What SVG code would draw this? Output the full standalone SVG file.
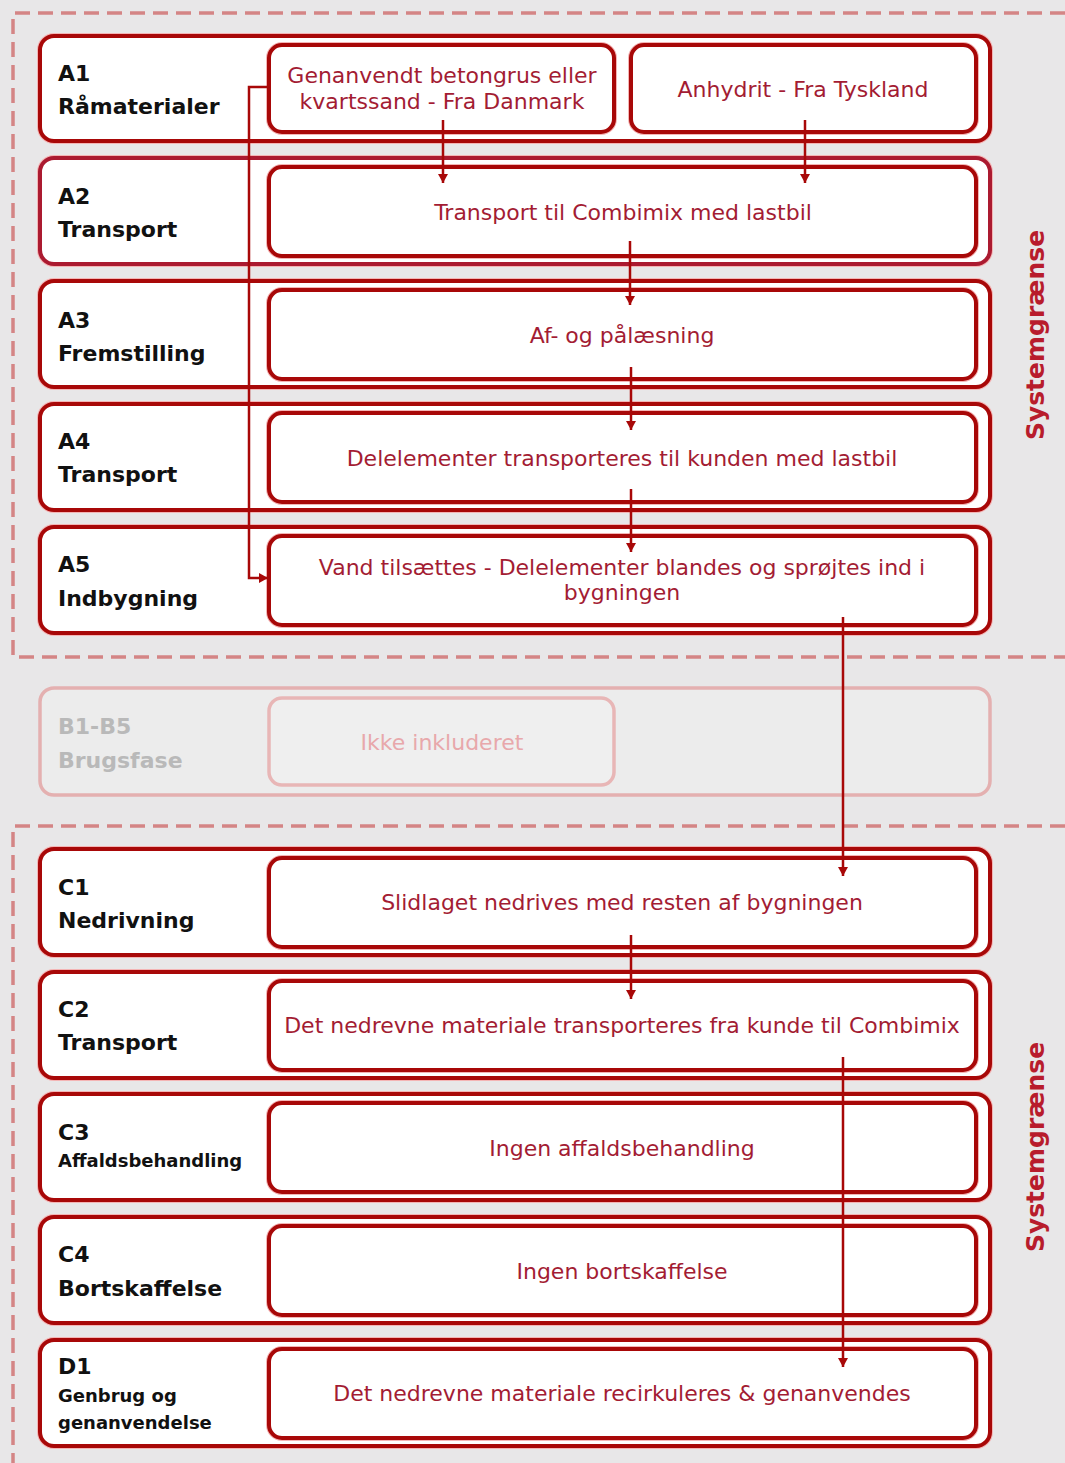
<svg xmlns="http://www.w3.org/2000/svg" width="1065" height="1463" viewBox="0 0 1065 1463">
<defs>
<marker id="ah" viewBox="0 0 9 10" refX="9" refY="5" markerWidth="9" markerHeight="10" markerUnits="userSpaceOnUse" orient="auto">
<path d="M0,0 L9,5 L0,10 z" fill="#a80808"/>
</marker>
<style>
.bound{fill:none;stroke:#d48585;stroke-width:3.5;stroke-dasharray:15 8}
.row{fill:#ffffff;stroke:#a80808;stroke-width:4}
.halo{fill:none;stroke:#f4b4b4;stroke-width:6}
.box{fill:#ffffff;stroke:#a80808;stroke-width:4}
.rowB{fill:#ececec;stroke:#e4b0b0;stroke-width:3.5}
.boxB{fill:#efefef;stroke:#e8b6b6;stroke-width:3.5}
.lbl{font-family:"DejaVu Sans",sans-serif;font-weight:bold;font-size:22px;fill:#111111}
.lbls{font-family:"DejaVu Sans",sans-serif;font-weight:bold;font-size:18px;fill:#111111}
.lblB{font-family:"DejaVu Sans",sans-serif;font-weight:bold;font-size:22px;fill:#b9b9b9}
.txt{font-family:"DejaVu Sans",sans-serif;font-size:22px;fill:#a31c33;text-anchor:middle}
.txtB{font-family:"DejaVu Sans",sans-serif;font-size:22px;fill:#e8a8ab;text-anchor:middle}
.sys{font-family:"DejaVu Sans",sans-serif;font-weight:bold;font-size:25px;fill:#b81c2c;text-anchor:middle}
.con{fill:none;stroke:#a80808;stroke-width:2.5}
</style>
</defs>
<rect x="0" y="0" width="1065" height="1463" fill="#e8e7e8"/>
<g id="boundaries">
<path class="bound" d="M1065,13 H13 V657 H1065"/>
<path class="bound" d="M1065,826 H13 V1463"/>
</g>
<g id="A1">
<rect class="halo" x="40" y="36" width="950" height="105" rx="14"/>
<rect class="row" x="40" y="36" width="950" height="105" rx="14"/>
<text class="lbl" x="58" y="81">A1</text>
<text class="lbl" x="58" y="114">Råmaterialer</text>
</g>
<g id="A1a">
<rect class="halo" x="269" y="45" width="345" height="87" rx="13"/>
<rect class="box" x="269" y="45" width="345" height="87" rx="13"/>
<text class="txt" x="442" y="83">Genanvendt betongrus eller</text>
<text class="txt" x="442" y="109">kvartssand - Fra Danmark</text>
</g>
<g id="A1b">
<rect class="halo" x="631" y="45" width="345" height="87" rx="13"/>
<rect class="box" x="631" y="45" width="345" height="87" rx="13"/>
<text class="txt" x="803" y="97">Anhydrit - Fra Tyskland</text>
</g>
<g id="A2">
<rect class="halo" x="40" y="158" width="950" height="106" rx="14"/>
<rect class="row" x="40" y="158" width="950" height="106" rx="14" style="stroke:#ab1a30"/>
<text class="lbl" x="58" y="204">A2</text>
<text class="lbl" x="58" y="237">Transport</text>
<rect class="halo" x="269" y="167" width="707" height="89" rx="13"/>
<rect class="box" x="269" y="167" width="707" height="89" rx="13"/>
<text class="txt" x="623" y="220">Transport til Combimix med lastbil</text>
</g>
<g id="A3">
<rect class="halo" x="40" y="281" width="950" height="106" rx="14"/>
<rect class="row" x="40" y="281" width="950" height="106" rx="14"/>
<text class="lbl" x="58" y="328">A3</text>
<text class="lbl" x="58" y="361">Fremstilling</text>
<rect class="halo" x="269" y="290" width="707" height="89" rx="13"/>
<rect class="box" x="269" y="290" width="707" height="89" rx="13"/>
<text class="txt" x="622" y="343">Af- og pålæsning</text>
</g>
<g id="A4">
<rect class="halo" x="40" y="404" width="950" height="106" rx="14"/>
<rect class="row" x="40" y="404" width="950" height="106" rx="14"/>
<text class="lbl" x="58" y="449">A4</text>
<text class="lbl" x="58" y="482">Transport</text>
<rect class="halo" x="269" y="413" width="707" height="89" rx="13"/>
<rect class="box" x="269" y="413" width="707" height="89" rx="13"/>
<text class="txt" x="622" y="466">Delelementer transporteres til kunden med lastbil</text>
</g>
<g id="A5">
<rect class="halo" x="40" y="527" width="950" height="106" rx="14"/>
<rect class="row" x="40" y="527" width="950" height="106" rx="14"/>
<text class="lbl" x="58" y="572">A5</text>
<text class="lbl" x="58" y="606">Indbygning</text>
<rect class="halo" x="269" y="536" width="707" height="89" rx="13"/>
<rect class="box" x="269" y="536" width="707" height="89" rx="13"/>
<text class="txt" x="622" y="575">Vand tilsættes - Delelementer blandes og sprøjtes ind i</text>
<text class="txt" x="622" y="600">bygningen</text>
</g>
<g id="B">
<rect class="rowB" x="40" y="688" width="950" height="107" rx="14"/>
<text class="lblB" x="58" y="734">B1-B5</text>
<text class="lblB" x="58" y="768">Brugsfase</text>
<rect class="boxB" x="269" y="698" width="345" height="87" rx="13"/>
<text class="txtB" x="442" y="750">Ikke inkluderet</text>
</g>
<g id="C1">
<rect class="halo" x="40" y="849" width="950" height="106" rx="14"/>
<rect class="row" x="40" y="849" width="950" height="106" rx="14"/>
<text class="lbl" x="58" y="895">C1</text>
<text class="lbl" x="58" y="928">Nedrivning</text>
<rect class="halo" x="269" y="858" width="707" height="89" rx="13"/>
<rect class="box" x="269" y="858" width="707" height="89" rx="13"/>
<text class="txt" x="622" y="910">Slidlaget nedrives med resten af bygningen</text>
</g>
<g id="C2">
<rect class="halo" x="40" y="972" width="950" height="106" rx="14"/>
<rect class="row" x="40" y="972" width="950" height="106" rx="14"/>
<text class="lbl" x="58" y="1017">C2</text>
<text class="lbl" x="58" y="1050">Transport</text>
<rect class="halo" x="269" y="981" width="707" height="89" rx="13"/>
<rect class="box" x="269" y="981" width="707" height="89" rx="13"/>
<text class="txt" x="622" y="1033">Det nedrevne materiale transporteres fra kunde til Combimix</text>
</g>
<g id="C3">
<rect class="halo" x="40" y="1094" width="950" height="106" rx="14"/>
<rect class="row" x="40" y="1094" width="950" height="106" rx="14"/>
<text class="lbl" x="58" y="1140">C3</text>
<text class="lbls" x="58" y="1167">Affaldsbehandling</text>
<rect class="halo" x="269" y="1103" width="707" height="89" rx="13"/>
<rect class="box" x="269" y="1103" width="707" height="89" rx="13"/>
<text class="txt" x="622" y="1156">Ingen affaldsbehandling</text>
</g>
<g id="C4">
<rect class="halo" x="40" y="1217" width="950" height="106" rx="14"/>
<rect class="row" x="40" y="1217" width="950" height="106" rx="14"/>
<text class="lbl" x="58" y="1262">C4</text>
<text class="lbl" x="58" y="1296">Bortskaffelse</text>
<rect class="halo" x="269" y="1226" width="707" height="89" rx="13"/>
<rect class="box" x="269" y="1226" width="707" height="89" rx="13"/>
<text class="txt" x="622" y="1279">Ingen bortskaffelse</text>
</g>
<g id="D1">
<rect class="halo" x="40" y="1340" width="950" height="106" rx="14"/>
<rect class="row" x="40" y="1340" width="950" height="106" rx="14"/>
<text class="lbl" x="58" y="1374">D1</text>
<text class="lbls" x="58" y="1402">Genbrug og</text>
<text class="lbls" x="58" y="1429">genanvendelse</text>
<rect class="halo" x="269" y="1349" width="707" height="89" rx="13"/>
<rect class="box" x="269" y="1349" width="707" height="89" rx="13"/>
<text class="txt" x="622" y="1401">Det nedrevne materiale recirkuleres &amp; genanvendes</text>
</g>
<g id="labels">
<text class="sys" transform="translate(1044,335) rotate(-90)">Systemgrænse</text>
<text class="sys" transform="translate(1044,1147) rotate(-90)">Systemgrænse</text>
</g>
<g id="connectors">
<path class="con" d="M269,87 H249 V578 H268" marker-end="url(#ah)"/>
<path class="con" d="M443,120 V183" marker-end="url(#ah)"/>
<path class="con" d="M805,120 V183" marker-end="url(#ah)"/>
<path class="con" d="M630,241 V305" marker-end="url(#ah)"/>
<path class="con" d="M631,367 V430" marker-end="url(#ah)"/>
<path class="con" d="M631,489 V552" marker-end="url(#ah)"/>
<path class="con" d="M843,617 V876" marker-end="url(#ah)"/>
<path class="con" d="M631,935 V999" marker-end="url(#ah)"/>
<path class="con" d="M843,1057 V1367" marker-end="url(#ah)"/>
</g>
</svg>
